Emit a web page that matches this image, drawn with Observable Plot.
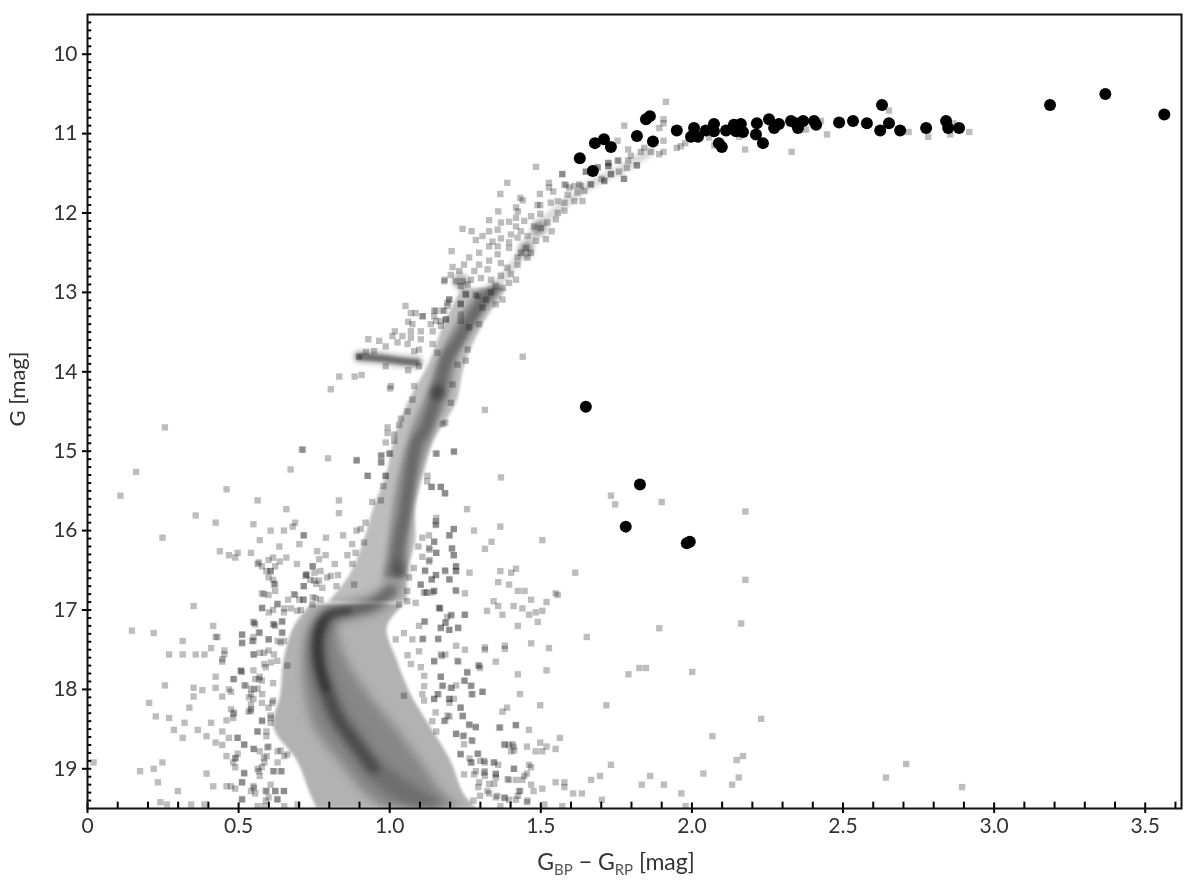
<!DOCTYPE html>
<html><head><meta charset="utf-8">
<script src="https://cdn.jsdelivr.net/npm/d3@7"></script>
<script src="https://cdn.jsdelivr.net/npm/@observablehq/plot@0.6"></script>
<style>
html,body{margin:0;padding:0;background:#fff}
#chart svg{display:block;filter:blur(.45px)}
#xlabel{position:relative;height:36px;width:1200px;text-align:center;font:23px Lato,sans-serif;color:#333;filter:blur(.45px)}
#xlabel div{position:absolute;left:32px;right:0;top:1px;white-space:nowrap}
#xlabel span{font-size:15px;position:relative;top:5px;color:#555}
</style></head><body>
<div id="chart"></div>
<div id="xlabel"><div>G<span>BP</span> − G<span>RP</span> [mag]</div></div>
<script>
const members=[[1.629,11.31],[1.672,11.47],[1.679,11.12],[1.709,11.07],[1.732,11.17],[1.818,11.03],[1.871,11.10],[1.848,10.82],[1.861,10.78],[1.950,10.96],[2.007,10.93],[2.007,11.01],[2.020,11.04],[1.997,11.04],[2.046,10.96],[2.073,10.88],[2.073,10.97],[2.089,11.12],[2.099,11.17],[2.113,10.96],[2.139,10.89],[2.162,10.88],[2.146,10.97],[2.169,10.98],[2.156,10.93],[2.215,10.87],[2.212,11.01],[2.235,11.12],[2.255,10.82],[2.272,10.93],[2.288,10.88],[2.328,10.84],[2.351,10.93],[2.368,10.84],[2.344,10.87],[2.404,10.84],[2.411,10.89],[2.487,10.86],[2.533,10.84],[2.579,10.87],[2.629,10.64],[2.652,10.87],[2.623,10.96],[2.689,10.96],[2.775,10.93],[2.841,10.84],[2.848,10.93],[2.884,10.93],[3.185,10.64],[3.368,10.50],[3.563,10.76],[1.649,14.44],[1.828,15.42],[1.781,15.95],[1.983,16.16],[1.993,16.14]];

const leftUpper=[[.256,14.70],[.709,14.98],[.161,15.26],[.672,15.23],[.460,15.48],[.109,15.56],[.563,15.62],[.658,15.73],[.358,15.81],[.424,15.90],[.549,15.92],[.687,15.90],[.679,15.95],[.606,16.00],[.650,16.00],[.715,16.06],[.248,16.09],[.570,16.12],[.701,16.17],[.635,16.20],[.438,16.26],[.468,16.31],[.497,16.28],[.489,16.34],[.541,16.28],[.614,16.34],[.599,16.37],[.658,16.34],[.563,16.42],[.636,16.39],[.621,16.45],[.577,16.45],[.693,16.42],[.592,16.51],[.606,16.51],[.599,16.59],[.614,16.62],[.621,16.67],[.621,16.76],[.577,16.79],[.599,16.81],[.745,16.45],[.751,16.53],[.723,16.56],[.737,16.62],[.715,16.70],[.757,16.67],[.687,16.81],[.664,16.87],[.701,16.87],[.715,16.87],[.746,16.84],[.351,16.95],[.577,16.98],[.629,16.92],[.614,17.0],[.651,16.98],[.673,16.98],[.706,17.0]];

const leftLower=[[.147,17.26],[.219,17.29],[.416,17.20],[.315,17.39],[.424,17.34],[.430,17.34],[.511,17.31],[.511,17.42],[.549,17.15],[.555,17.18],[.570,17.29],[.549,17.34],[.549,17.39],[.409,17.48],[.453,17.51],[.453,17.56],[.270,17.56],[.315,17.56],[.358,17.56],[.387,17.56],[.446,17.62],[.446,17.65],[.549,17.56],[.570,17.54],[.599,17.51],[.599,17.37],[.614,17.18],[.621,17.20],[.643,17.15],[.643,17.29],[.629,17.39],[.650,17.39],[.585,17.68],[.607,17.66],[.508,17.76],[.511,17.78],[.549,17.76],[.424,17.84],[.482,17.87],[.555,17.87],[.570,17.84],[.577,17.89],[.614,17.92],[.256,17.95],[.351,17.98],[.380,18.01],[.424,17.98],[.468,18.0],[.475,18.03],[.519,17.95],[.541,17.99],[.563,17.99],[.351,18.09],[.446,18.09],[.541,18.06],[.549,18.12],[.541,18.19],[.577,18.17],[.614,18.14],[.599,18.23],[.204,18.17],[.337,18.23],[.475,18.25],[.482,18.31],[.541,18.25],[.533,18.28],[.226,18.34],[.270,18.36],[.460,18.39],[.482,18.36],[.321,18.42],[.409,18.42],[.577,18.39],[.606,18.36],[.606,18.42],[.286,18.51],[.365,18.51],[.446,18.53],[.563,18.53],[.592,18.53],[.592,18.59],[.394,18.59],[.315,18.61],[.468,18.61],[.497,18.61],[.424,18.67],[.446,18.70],[.519,18.70],[.599,18.72],[.549,18.75],[.570,18.78],[.497,18.81],[.460,18.84],[.489,18.87],[.593,18.84],[.629,18.78],[.651,18.84],[.629,18.92],[.020,18.92],[.248,18.92],[.482,18.92],[.489,18.98],[.585,18.92],[.577,18.98],[.219,19.0],[.174,19.03],[.394,19.06],[.519,19.06],[.563,19.0],[.570,19.09],[.614,19.03],[.643,19.03],[.233,19.17],[.511,19.17],[.416,19.22],[.460,19.22],[.475,19.22],[.489,19.25],[.549,19.22],[.606,19.2],[.541,19.28],[.555,19.31],[.593,19.28],[.621,19.28],[.650,19.28],[.299,19.28],[.599,19.36],[.511,19.39],[.629,19.39],[.241,19.42],[.263,19.45],[.343,19.45],[.387,19.45],[.563,19.47],[.585,19.47],[.651,19.47],[.695,19.45]];

const leftEdge=[[.567,16.40],[.606,16.51],[.617,16.68],[.584,16.80],[.683,16.80],[.722,16.57],[.750,16.63],[.805,16.57],[.578,16.97],[.600,17.03],[.628,16.93],[.650,17.03],[.694,17.01],[.551,17.16],[.617,17.18],[.645,17.14],[.645,17.28],[.512,17.31],[.512,17.41],[.545,17.39],[.567,17.28],[.600,17.37],[.639,17.41],[.584,17.54],[.551,17.56],[.617,17.56],[.590,17.72],[.661,17.70],[.628,17.64],[.485,17.87],[.507,17.77],[.567,17.87],[.523,17.95],[.551,18.0],[.534,18.10],[.578,18.06],[.611,18.17],[.540,18.27],[.485,18.29],[.578,18.40],[.606,18.33],[.562,18.53],[.496,18.61],[.518,18.69],[.595,18.73],[.551,18.75],[.584,18.86],[.490,18.86],[.639,18.77],[.661,18.82],[.617,19.03],[.639,19.03],[.518,19.05],[.567,19.03],[.512,19.17],[.551,19.24],[.589,19.28],[.622,19.28],[.650,19.28],[.512,19.38],[.628,19.38],[.590,19.40]];

const rightField=[[1.732,15.56],[1.746,15.67],[1.900,15.64],[2.177,15.76],[2.177,16.62],[2.163,17.17],[1.892,17.23],[1.652,17.34],[1.614,16.53],[1.505,16.12],[1.366,15.95],[1.279,16.0],[1.256,15.73],[1.154,15.84],[1.154,15.92],[1.169,15.45],[1.184,15.53],[1.139,15.45],[1.212,15.98],[1.198,16.06],[1.337,16.14],[1.315,16.23],[1.147,16.14],[1.205,16.23],[1.212,16.31],[1.154,16.28],[1.132,16.24],[1.132,16.37],[1.220,16.45],[1.220,16.51],[1.184,16.51],[1.264,16.53],[1.366,16.51],[1.402,16.53],[1.418,16.48],[1.154,16.56],[1.139,16.62],[1.198,16.62],[1.359,16.65],[1.395,16.68],[1.220,16.76],[1.249,16.79],[1.147,16.76],[1.117,16.51],[1.424,16.76],[1.446,16.76],[1.468,16.87],[1.549,16.79],[1.556,16.81],[1.519,16.90],[1.344,16.89],[1.359,16.95],[1.322,17.01],[1.410,16.95],[1.439,16.98],[1.461,17.06],[1.483,17.03],[1.505,17.01],[1.373,17.06],[1.249,17.06],[1.205,17.06],[1.190,17.09],[1.165,16.98],[1.490,17.15],[1.424,17.20],[1.227,17.23],[1.198,17.25],[1.169,17.23],[1.184,17.16],[1.117,17.15],[1.161,17.36],[1.111,17.36],[1.220,17.45],[1.249,17.50],[1.315,17.47],[1.315,17.50],[1.381,17.45],[1.381,17.49],[1.468,17.42],[1.527,17.48],[1.169,17.56],[1.184,17.56],[1.147,17.65],[1.227,17.65],[1.351,17.65],[1.293,17.70],[1.299,17.73],[1.256,17.78],[1.424,17.81],[1.519,17.76],[1.790,17.81],[1.826,17.73],[1.848,17.73],[2.001,17.78],[1.169,17.84],[1.249,17.89],[1.271,17.95],[1.220,17.95],[1.205,17.98],[1.176,17.95],[1.271,18.06],[1.307,18.03],[1.431,18.06],[1.161,18.06],[1.147,18.12],[1.212,18.12],[1.198,18.12],[1.198,18.17],[1.234,18.23],[1.498,18.20],[1.717,18.20],[1.388,18.23],[1.373,18.28],[1.198,18.34],[1.184,18.39],[1.242,18.34],[1.264,18.45],[1.285,18.48],[1.366,18.48],[1.418,18.45],[1.461,18.51],[1.154,18.53],[1.220,18.56],[1.242,18.59],[1.271,18.64],[1.563,18.61],[2.068,18.59],[2.229,18.37],[1.381,18.70],[1.395,18.70],[1.410,18.72],[1.402,18.78],[1.454,18.72],[1.498,18.67],[1.519,18.72],[1.549,18.75],[1.483,18.78],[1.505,18.78],[1.234,18.81],[1.293,18.81],[1.264,18.87],[1.271,18.92],[1.299,18.90],[1.315,18.92],[1.344,18.92],[1.359,18.95],[1.410,19.0],[1.461,18.95],[1.468,18.98],[1.732,18.95],[2.169,18.84],[2.148,18.89],[1.454,19.06],[1.315,19.03],[1.351,19.06],[1.285,19.03],[1.315,19.09],[1.351,19.11],[1.395,19.14],[1.418,19.14],[1.439,19.14],[1.862,19.09],[2.038,19.06],[1.696,19.09],[1.666,19.14],[1.549,19.17],[1.578,19.17],[1.578,19.23],[1.468,19.20],[1.476,19.28],[1.505,19.25],[1.834,19.20],[1.907,19.20],[2.155,19.11],[2.133,19.20],[1.965,19.31],[1.607,19.31],[1.636,19.31],[1.702,19.39],[1.432,19.28],[1.424,19.34],[1.454,19.42],[1.512,19.45],[1.381,19.37],[1.395,19.39],[1.418,19.39],[1.366,19.47],[1.571,19.47],[1.979,19.47],[1.329,19.19],[1.293,19.23],[1.329,19.31],[1.351,19.36],[1.299,19.34],[1.277,19.40],[2.709,18.94],[2.642,19.11],[2.894,19.23]];

const rightEdge=[[1.103,16.68],[1.119,16.78],[1.141,16.78],[1.167,16.98],[1.248,17.06],[1.202,17.07],[1.185,17.16],[1.169,17.22],[1.226,17.22],[1.196,17.25],[1.114,17.14],[1.097,17.20],[1.047,17.29],[1.075,17.37],[1.108,17.37],[1.020,17.37],[1.160,17.37],[1.097,17.52],[1.059,17.57],[1.070,17.68],[1.147,17.64],[1.173,17.58],[1.224,17.64],[1.103,17.72],[1.114,17.83],[1.169,17.84],[1.257,17.79],[1.296,17.70],[1.114,17.96],[1.174,17.96],[1.202,17.98],[1.268,17.96],[1.246,17.89],[1.274,18.06],[1.307,18.03],[1.158,18.06],[1.147,18.12],[1.196,18.12],[1.108,18.06],[1.047,18.08],[1.114,18.14],[1.235,18.23],[1.241,18.33],[1.191,18.33],[1.152,18.29],[1.141,18.40],[1.180,18.40],[1.263,18.44],[1.285,18.47],[1.219,18.56],[1.246,18.58],[1.274,18.65],[1.246,18.69],[1.235,18.82],[1.290,18.81],[1.268,18.92],[1.312,18.90],[1.346,18.92],[1.379,18.69],[1.406,18.69],[1.412,18.77],[1.362,18.48],[1.417,18.45],[1.412,19.0],[1.445,19.09],[1.390,19.13],[1.351,19.07],[1.312,19.05],[1.279,19.07],[1.246,19.07],[1.296,19.17],[1.346,19.19],[1.323,19.28],[1.379,19.36],[1.428,19.28],[1.456,19.40],[1.356,19.34]];

const msHalo=[[.713,14.98],[.796,15.09],[.890,15.12],[.971,15.06],[.971,15.14],[.928,15.31],[.986,15.31],[1.001,15.03],[1.152,15.03],[1.212,15.01],[.979,15.44],[1.124,15.38],[1.138,15.45],[1.169,15.45],[1.182,15.53],[.832,15.62],[.942,15.64],[.971,15.62],[.832,15.78],[.920,15.90],[1.152,15.88],[1.152,15.93],[.904,15.98],[.890,16.0],[1.212,15.98],[1.197,16.06],[.716,16.06],[.789,16.09],[.846,16.06],[1.130,16.06],[1.108,16.09],[1.147,16.14],[.915,16.15],[.876,16.17],[1.095,16.20],[1.130,16.22],[1.207,16.22],[1.212,16.31],[1.154,16.28],[.760,16.26],[.860,16.31],[.887,16.28],[.788,16.31],[.766,16.36],[1.108,16.33],[1.130,16.39],[.818,16.42],[.876,16.42],[.745,16.45],[1.080,16.47],[1.117,16.50],[1.183,16.50],[1.219,16.45],[1.219,16.51],[.771,16.51],[.725,16.55],[.829,16.56],[.793,16.59],[1.152,16.56],[1.139,16.61],[1.197,16.61],[.766,16.63],[.716,16.70],[.824,16.70],[.882,16.68],[1.064,16.59],[1.102,16.68],[.777,16.72],[1.218,16.75],[1.147,16.76],[1.113,16.78],[1.124,16.78],[1.058,16.76],[.714,16.87],[.755,16.85],[.744,16.93],[.771,16.87],[1.086,16.91],[1.163,16.97],[1.058,16.89],[1.031,16.93]];

const horizontalBranch=[[1.052,13.17],[1.070,13.26],[1.086,13.26],[1.109,13.30],[1.061,13.37],[1.075,13.40],[1.017,13.49],[1.070,13.49],[1.103,13.49],[.929,13.59],[.965,13.61],[1.009,13.55],[1.042,13.55],[1.070,13.57],[1.103,13.59],[1.026,13.63],[1.059,13.65],[.987,13.68],[.921,13.75],[.899,13.81],[1.097,13.72],[1.081,13.74],[.948,13.74],[.987,13.93],[1.061,13.98],[1.097,13.93],[.833,14.06],[.884,14.06],[.907,14.04],[1.004,14.18],[1.001,14.21],[.805,14.22]];

const branchHalo=[[1.153,13.23],[1.175,13.23],[1.197,13.09],[1.191,13.17],[1.186,13.34],[1.153,13.36],[1.235,13.15],[1.252,13.02],[1.291,13.05],[1.180,12.86],[1.142,13.49],[1.169,13.42],[1.142,13.65],[1.158,13.76],[1.440,13.81],[1.315,14.48],[1.368,15.33],[1.213,15.0],[1.156,15.03],[1.184,14.64],[1.202,14.39],[1.081,14.18],[1.075,14.35],[1.059,14.50],[1.037,14.59],[1.031,14.67],[.993,14.70],[.993,14.77],[1.015,14.79],[.987,14.89],[1.015,14.87],[.973,15.05],[.973,15.14],[.891,15.11],[.926,15.31],[.987,15.31],[1.125,15.31],[.998,15.03],[1.175,14.66],[1.258,13.72],[1.252,13.86],[1.224,13.91],[1.208,14.16],[1.263,13.44],[1.296,13.40]];

const giantBranch=[[1.484,11.42],[1.571,11.51],[1.724,11.37],[1.724,11.41],[1.754,11.34],[1.818,11.40],[1.774,11.57],[1.732,11.51],[1.710,11.59],[1.688,11.42],[1.649,11.48],[1.666,11.64],[1.389,11.62],[1.366,11.76],[1.497,11.76],[1.432,11.81],[1.440,11.84],[1.527,11.62],[1.527,11.68],[1.541,11.73],[1.578,11.64],[1.594,11.68],[1.627,11.64],[1.589,11.77],[1.622,11.74],[1.644,11.72],[1.556,11.85],[1.533,11.87],[1.578,11.87],[1.611,11.85],[1.638,11.85],[1.489,11.90],[1.498,11.90],[1.418,11.93],[1.424,11.98],[1.359,11.98],[1.498,12.01],[1.468,12.04],[1.556,12.0],[1.578,11.97],[1.550,12.08],[1.329,12.09],[1.418,12.06],[1.368,12.12],[1.395,12.11],[1.445,12.10],[1.241,12.20],[1.271,12.23],[1.307,12.29],[1.329,12.23],[1.357,12.21],[1.285,12.34],[1.418,12.17],[1.478,12.17],[1.500,12.19],[1.536,12.23],[1.522,12.12],[1.434,12.23],[1.401,12.27],[1.456,12.29],[1.484,12.35],[1.517,12.33],[1.368,12.32],[1.340,12.36],[1.395,12.37],[1.423,12.31],[1.205,12.48],[1.296,12.5],[1.329,12.42],[1.357,12.42],[1.395,12.44],[1.451,12.44],[1.434,12.5],[1.467,12.5],[1.456,12.56],[1.423,12.56],[1.357,12.52],[1.368,12.63],[1.263,12.56],[1.329,12.6],[1.296,12.65],[1.246,12.65],[1.208,12.68],[1.230,12.73],[1.280,12.73],[1.324,12.71],[1.390,12.69],[1.423,12.65],[1.401,12.77],[1.182,12.84],[1.202,12.78],[1.219,12.86],[1.241,12.86],[1.269,12.84],[1.302,12.82],[1.335,12.84],[1.368,12.79],[1.418,12.84],[1.395,12.88],[1.235,12.92],[1.258,12.90],[1.351,12.92],[1.373,12.94],[1.252,13.03],[1.285,13.03],[1.197,13.09],[1.191,13.13],[1.235,13.14],[1.373,13.09],[1.351,13.15],[1.335,13.0],[1.318,13.09],[1.307,13.19],[1.147,13.23],[1.180,13.23],[1.109,13.30],[1.147,13.30],[1.186,13.34],[1.169,13.36],[1.136,13.40],[1.235,13.28],[1.235,13.36]];

const upperBranch=[[1.914,10.60],[1.906,10.82],[1.906,10.87],[1.892,10.93],[1.776,10.90],[1.754,11.09],[1.906,11.09],[1.906,11.23],[1.892,11.26],[1.950,11.18],[1.978,11.12],[1.963,11.16],[2.176,11.2],[2.330,11.23],[2.447,11.01],[2.377,10.95],[2.427,10.84],[2.652,10.71],[2.717,10.98],[2.782,11.04],[2.855,11.01],[2.865,10.87],[2.918,10.98],[2.074,11.15],[2.057,11.05],[2.157,11.04],[1.864,11.23],[1.842,11.18],[1.831,11.23],[1.789,11.2],[1.798,11.28],[1.818,11.40],[1.789,11.34],[1.757,11.34],[1.723,11.37],[1.723,11.41],[1.785,11.43],[1.759,11.48],[1.732,11.51],[1.776,11.57],[1.701,11.57],[1.688,11.43],[1.649,11.48],[1.571,11.51],[1.710,11.6],[1.665,11.64],[1.632,11.66],[1.610,11.66],[1.583,11.65]];

// dense cloud bands: [G, left colour, right colour]
const cloudBand=[[16.93,.74,1.05],[17.22,.683,.992],[17.64,.65,1.025],[18.06,.64,1.07],[18.48,.617,1.136],[18.90,.694,1.202],[19.32,.738,1.246],[19.5,.76,1.29]];
const sequenceBand=[[17.1,.76,.83],[17.3,.73,.83],[17.64,.715,.86],[18.06,.72,.93],[18.48,.75,1.02],[18.90,.83,1.10],[19.32,.92,1.18],[19.5,.98,1.24]];
const branchBand=[[16.9,.80,1.06],[16.55,.87,1.058],[16.13,.915,1.086],[15.71,.948,1.086],[15.29,.99,1.113],[14.87,1.014,1.147],[14.4,1.06,1.22],[13.9,1.13,1.25],[13.4,1.18,1.31],[12.95,1.24,1.39]];
const branchCore=[[16.6,.98,1.06],[16.0,1.0,1.07],[15.3,1.03,1.10],[14.75,1.07,1.15],[14.3,1.12,1.20],[13.8,1.165,1.23],[13.3,1.235,1.30],[12.95,1.30,1.37]];
const msRidge=[[1.026,16.51],[1.003,16.76],[.947,16.92],[.861,17.01],[.795,17.07],[.765,17.30],[.765,17.64],[.788,17.98],[.828,18.36],[.881,18.65],[.947,18.99],[1.026,19.24],[1.093,19.40],[1.136,19.5]];
const rgbRidge=[[1.026,16.51],[1.025,16.3],[1.053,15.71],[1.069,15.29],[1.091,14.87],[1.114,14.75],[1.158,14.26],[1.191,13.82],[1.235,13.57],[1.28,13.28],[1.346,12.94]];
const upperRidge=[[1.346,12.94],[1.445,12.48],[1.495,12.17],[1.556,11.95],[1.666,11.64],[1.776,11.43],[1.864,11.22]];
const hbRidge=[[.90,13.81],[.97,13.83],[1.03,13.86],[1.09,13.88]];
const blobs=[[1.158,14.26],[1.235,12.86],[1.495,12.19],[1.451,12.46]];

const xTicks=[0,.5,1,1.5,2,2.5,3,3.5];
const xLabels=["0","0.5","1.0","1.5","2.0","2.5","3.0","3.5"];
const xMinor=[.1,.2,.3,.4,.6,.7,.8,.9,1.1,1.2,1.3,1.4,1.6,1.7,1.8,1.9,2.1,2.2,2.3,2.4,2.6,2.7,2.8,2.9,3.1,3.2,3.3,3.4,3.6];
const yTicks=[10,11,12,13,14,15,16,17,18,19];
const yMinor=d3.range(96,195).map(v=>v/10).filter(v=>v%1!==0);

const scatter=[...leftUpper,...leftLower,...leftEdge,...rightField,...rightEdge,...msHalo,...horizontalBranch,...branchHalo,...giantBranch,...upperBranch];
const px=d=>d[0], py=d=>d[1];
const band=(data,fill,opacity,blur)=>Plot.areaX(data,{y:d=>d[0],x1:d=>d[1],x2:d=>d[2],curve:"catmull-rom",fill,fillOpacity:opacity,imageFilter:`blur(${blur}px)`,clip:true});
const ridge=(data,width,opacity,blur)=>Plot.line(data,{x:px,y:py,curve:"catmull-rom",stroke:"#000",strokeWidth:width,strokeOpacity:opacity,imageFilter:`blur(${blur}px)`,clip:true});

const chart=Plot.plot({
  width:1200,height:846,marginLeft:87,marginRight:19,marginTop:14,marginBottom:38,
  x:{domain:[0,3.62],label:null},
  y:{domain:[19.5,9.5],label:null},
  style:{fontFamily:"Lato, sans-serif",fontSize:"21px",color:"#333",background:"#fff"},
  marks:[
    band(cloudBand,"#000",.3,1.5),
    band(branchBand,"#000",.26,1.5),
    band(sequenceBand,"#000",.24,5),
    band(branchCore,"#000",.24,2.5),
    ridge(msRidge,22,.18,4),
    ridge(msRidge.slice(1,11),12,.3,3),
    ridge(msRidge.slice(3,8),9,.25,2),
    ridge(rgbRidge,12,.25,2.5),
    ridge(upperRidge,9,.14,2),
    ridge(hbRidge,14,.2,2),
    ridge(hbRidge,7,.45,1.5),
    Plot.dot(blobs,{x:px,y:py,r:8,fill:"#000",fillOpacity:.3,imageFilter:"blur(2.5px)"}),
    Plot.dot(scatter,{x:px,y:py,symbol:"square",r:3.6,fill:"#000",fillOpacity:.26,clip:true}),
    Plot.dot(members,{x:px,y:py,r:6,fill:"#000",clip:true}),
    Plot.ruleX(xMinor,{y1:19.5,y2:19.42,stroke:"#000",strokeWidth:2}),
    Plot.ruleX(xTicks,{y1:19.5,y2:19.43,stroke:"#000",strokeWidth:2}),
    Plot.ruleY(yMinor,{x1:0,x2:.014,stroke:"#000",strokeWidth:2}),
    Plot.ruleY(yTicks,{x1:0,x2:.014,stroke:"#000",strokeWidth:2}),
    Plot.axisX({ticks:xTicks,tickFormat:v=>xLabels[xTicks.indexOf(v)],tickSize:5,tickPadding:5,strokeWidth:2,stroke:"#000",textStroke:"none",label:null,fill:"#333"}),
    Plot.axisY({ticks:yTicks,tickSize:5,tickPadding:5,strokeWidth:2,stroke:"#000",label:null,fill:"#333"}),
    Plot.frame({stroke:"#111",strokeWidth:2}),
    Plot.text(["G [mag]"],{frameAnchor:"left",dx:-70,dy:15,rotate:-90,fontSize:22,fill:"#333"})
  ]
});
document.getElementById("chart").append(chart);
</script>
</body></html>
